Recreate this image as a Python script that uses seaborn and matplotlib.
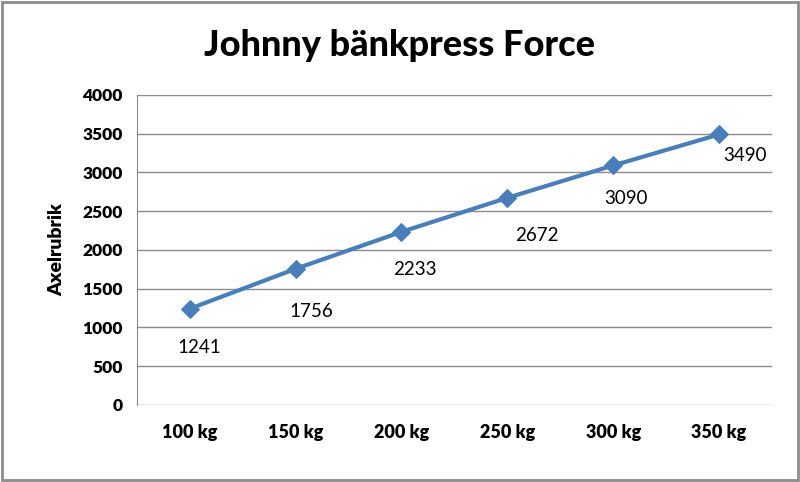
import matplotlib
matplotlib.use("Agg")
import matplotlib.pyplot as plt
import seaborn as sns
from matplotlib.patches import Rectangle

# data
weights = ["100 kg", "150 kg", "200 kg", "250 kg", "300 kg", "350 kg"]
force = [1241, 1756, 2233, 2672, 3090, 3490]
y_ticks = [0, 500, 1000, 1500, 2000, 2500, 3000, 3500, 4000]

# label offsets in points (dx, dy), hand placed like in the original
label_offsets = [(7, -28), (11, -31), (10, -27), (21, -27), (9, -24), (19, -15)]

sns.set_style("white", {"text.color": "black", "axes.labelcolor": "black",
                        "xtick.color": "black", "ytick.color": "black"})
plt.rcParams["font.family"] = ["Lato", "DejaVu Sans"]

fig = plt.figure(figsize=(8, 4.82), dpi=100)
ax = fig.add_axes([0.171, 0.160, 0.794, 0.643])

sns.lineplot(x=weights, y=force, ax=ax, color="#4A7EBB", linewidth=3,
             marker="D", markersize=9, markeredgecolor="#4A7EBB")

for i, (v, off) in enumerate(zip(force, label_offsets)):
    ax.annotate(str(v), (i, v), xytext=off, textcoords="offset points",
                ha="center", va="center", fontsize=13.5, color="black")

ax.set_xlim(-0.5, len(weights) - 0.5)
ax.set_ylim(0, 4000)
ax.set_yticks(y_ticks)
ax.yaxis.grid(True, color="#8C8C8C", linewidth=1)
ax.set_axisbelow(True)
for s in ["top", "right", "bottom"]:
    ax.spines[s].set_visible(False)
ax.spines["left"].set_color("#8C8C8C")
ax.tick_params(axis="y", length=0, labelsize=12.5, pad=10, labelcolor="black")
ax.tick_params(axis="x", length=0, labelsize=13, pad=14, labelcolor="black")
for t in ax.get_xticklabels() + ax.get_yticklabels():
    t.set_fontweight("heavy")

ax.set_xlabel("")
ax.set_ylabel("Axelrubrik", fontsize=14, fontweight="heavy", labelpad=12, color="black")

fig.text(0.5, 0.905, "Johnny bänkpress Force", ha="center", va="center",
         fontsize=26, fontweight="black", color="black")

fig.patches.append(Rectangle((0.002, 0.004), 0.995, 0.992, transform=fig.transFigure,
                             fill=False, edgecolor="#8C8C8C", linewidth=2))

fig.savefig("out.png", dpi=100)
